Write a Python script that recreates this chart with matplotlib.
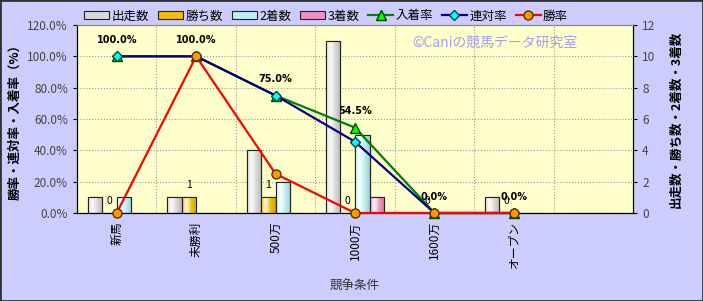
import matplotlib
matplotlib.use("Agg")
import matplotlib.pyplot as plt
import numpy as np
from matplotlib.patches import Rectangle
from matplotlib.colors import to_rgb

plt.rcParams['font.family'] = ['Noto Sans CJK JP', 'DejaVu Sans']

categories = ["新馬", "未勝利", "500万", "1000万", "1600万", "オープン", ""]
starts = [1, 1, 4, 11, 0, 1, 0]
wins = [0, 1, 1, 0, 0, 0, 0]
seconds = [1, 0, 2, 5, 0, 0, 0]
thirds = [0, 0, 0, 1, 0, 0, 0]
place_rate = [100.0, 100.0, 75.0, 54.5, 0.0, 0.0, np.nan]
rentai_rate = [100.0, 100.0, 75.0, 45.5, 0.0, 0.0, np.nan]
win_rate = [0.0, 100.0, 25.0, 0.0, 0.0, 0.0, np.nan]
win_labels = ["0", "1", "1", "0", "0", "0", ""]

W, H = 703, 301
fig = plt.figure(figsize=(W / 100, H / 100), dpi=100)
fig.patch.set_facecolor("#CCCCFF")
fig.patches.append(Rectangle((0, 0), 1, 1, transform=fig.transFigure, fill=False,
                             edgecolor="#333333", linewidth=2.0))

l, r, b, t = 77, 633, 213, 25
ax = fig.add_axes([l / W, 1 - b / H, (r - l) / W, (b - t) / H])
ax.set_facecolor("#FFFFCC")
ax2 = ax.twinx()

x = np.arange(len(categories))
w = 0.183
series = [(starts, "#D8D8D8", "出走数"), (wins, "#F0C000", "勝ち数"),
          (seconds, "#BDEFF0", "2着数"), (thirds, "#F090C0", "3着数")]
bar_handles = []
prof = np.linspace(0, 1, 40)
# brightness profile: bright near left third, darker at edges
shade = 1 - 0.9 * np.abs(prof - 0.3) ** 1.2
for i, (vals, col, lab) in enumerate(series):
    bh = ax.bar(x + (i - 1.5) * w, vals, width=w, color=col, edgecolor="#222222",
                linewidth=0.8, label=lab, zorder=2)
    bar_handles.append(bh)
    base = np.array(to_rgb(col))
    grad = np.empty((1, len(prof), 3))
    for k, s in enumerate(shade):
        # blend toward white at peak, toward darker at edges
        if s > 0.75:
            f = (s - 0.75) / 0.25
            grad[0, k] = base + (1 - base) * f * 0.85
        else:
            f = (0.75 - s) / 0.75
            grad[0, k] = base * (1 - 0.35 * f)
    for p in bh.patches:
        if p.get_height() <= 0:
            continue
        x0, y0 = p.get_x(), p.get_y()
        im = ax.imshow(np.clip(grad, 0, 1), extent=(x0, x0 + p.get_width(), y0, y0 + p.get_height()),
                       aspect="auto", zorder=2.1, interpolation="bilinear")
        im.set_clip_path(p)
        ax.add_patch(Rectangle((x0, y0), p.get_width(), p.get_height(), fill=False,
                               edgecolor="#222222", linewidth=0.8, zorder=2.2))
ax.set_xlim(-0.5, len(categories) - 0.5)
ax.set_ylim(0, 12)
ax.set_yticks(np.arange(0, 13, 2))
ax.yaxis.tick_right()
ax.yaxis.set_label_position("right")
ax.set_ylabel("出走数・勝ち数・2着数・3着数", rotation=90, fontsize=9, labelpad=10,
              fontweight="bold")
ax.set_xticks(x)
ax.set_xticklabels(categories, rotation=90, fontsize=8.5)
ax.set_xlabel("競争条件", fontsize=9, color="#333333", labelpad=8)
ax.set_xticks(np.arange(0.5, len(categories) - 0.5, 1), minor=True)
ax.grid(True, which="minor", axis="x", color="#999999", linestyle=":", linewidth=0.8, zorder=0)
ax.grid(True, which="major", axis="y", color="#999999", linestyle=":", linewidth=0.8, zorder=0)
ax.tick_params(axis="x", which="both", length=0, pad=6)
ax.tick_params(axis="y", labelsize=8.5, labelcolor="#444444", length=3)
for i, s in enumerate(win_labels):
    if s:
        ax.text(x[i] - 0.5 * w, wins[i] + 0.78, s, ha="center", va="center", fontsize=7.5, zorder=6)

ax2.yaxis.tick_left()
ax2.yaxis.set_label_position("left")
ax2.set_ylim(0, 120)
ax2.set_yticks(np.arange(0, 121, 20))
ax2.set_yticklabels([f"{v:.1f}%" for v in np.arange(0, 121, 20)])
ax2.tick_params(axis="y", labelsize=8.5, labelcolor="#444444", length=3)
ax2.set_ylabel("勝率・連対率・入着率（%）", fontsize=9, labelpad=4, fontweight="bold")
l1, = ax2.plot(x, place_rate, color="#008000", linewidth=1.6, marker="^", markersize=7,
               markerfacecolor="#00FF00", markeredgecolor="#004400", label="入着率", zorder=3, clip_on=False)
l2, = ax2.plot(x, rentai_rate, color="#000080", linewidth=1.6, marker="D", markersize=5,
               markerfacecolor="#00FFFF", markeredgecolor="#004444", label="連対率", zorder=4, clip_on=False)
l3, = ax2.plot(x, win_rate, color="#FF0000", linewidth=1.6, marker="o", markersize=6.5,
               markerfacecolor="#FF9900", markeredgecolor="#553300", label="勝率", zorder=5, clip_on=False)
for i, v in enumerate(place_rate):
    if not np.isnan(v):
        ax2.text(x[i], v + 10.5, f"{v:.1f}%", ha="center", va="center", fontsize=7, fontweight="bold",
                 family="DejaVu Sans", zorder=6)
ax.spines["top"].set_color("#888888")
ax2.spines["top"].set_color("#888888")

ax.text(0.752, 0.904, "©Caniの競馬データ研究室", transform=ax.transAxes, ha="center", va="center",
        fontsize=10, color="#A0A0F0", zorder=1)

handles = bar_handles + [l1, l2, l3]
labels = ["出走数", "勝ち数", "2着数", "3着数", "入着率", "連対率", "勝率"]
fig.legend(handles, labels, loc="center", bbox_to_anchor=(326 / W, 1 - 16 / H), ncol=7,
           frameon=False, fontsize=9, handlelength=2.0, handleheight=0.55, handletextpad=0.2,
           columnspacing=0.7, borderpad=0.2)

fig.savefig("out.png", dpi=100, facecolor=fig.get_facecolor())
